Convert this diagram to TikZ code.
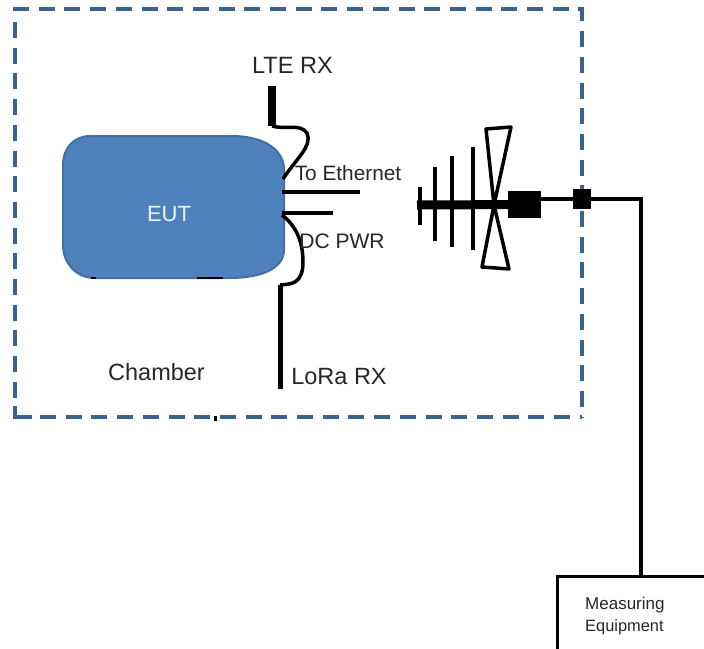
\documentclass[tikz,border=0pt]{standalone}
\usepackage{fontspec}
\setmainfont{Liberation Sans}
\usepackage{xcolor}
\usetikzlibrary{calc}
\definecolor{chamberblue}{HTML}{3A6291}
\definecolor{eutblue}{HTML}{4F81BD}
\definecolor{eutedge}{HTML}{44709F}
\tikzset{
    lbl/.style={font=\fontsize{#1}{#1}\selectfont, text=black!85, inner sep=0pt},
    wall/.style={chamberblue, line width=4pt, dash pattern=on 16pt off 9.7pt},
    cable/.style={black, line width=3.5pt},
    blackbox/.style={fill=black, draw=none, inner sep=0pt},
    element/.style={black, line width=4.5pt}
}

\begin{document}
\begin{tikzpicture}[x=1pt, y=-1pt]
    \useasboundingbox (0,0) rectangle (704,648);
    \clip (0,0) rectangle (704,648);

    % Draw chamber
    \draw[wall] (13,9) -- (582,9) -- (582,417);
    \draw[wall] (15,22) -- (15,398);
    \draw[chamberblue, line width=4pt] (15,406) -- (15,417) -- (32,417);
    \draw[wall] (40,417) -- (582,417);
    \fill[black] (213.5,416) rectangle (217,421);

    % Draw EUT
    \draw[eutedge, fill=eutblue, line width=2pt] (90,136) -- (235,136)
        .. controls (265,137) and (284,150) .. (284,170) -- (284,250)
        .. controls (284,268) and (262,278) .. (230,278) -- (95,278)
        .. controls (75,278) and (63,262) .. (63,245) -- (63,165)
        .. controls (63,148) and (74,136) .. (90,136) -- cycle;
    \draw[black, line width=2pt] (91,278) -- (96,278);
    \draw[black, line width=2pt] (197,278) -- (223,278);
    \node[lbl=22, text=white!90!eutblue] (eut) at (169,214.5) {EUT};

    % Cable ends
    \coordinate (lteTop) at (272,86);
    \coordinate (lteEnd) at (272,126);
    \coordinate (lteEut) at (283,179);
    \coordinate (ethEut) at (282,192);
    \coordinate (ethEnd) at (360,192);
    \coordinate (dcEut) at (282,213);
    \coordinate (dcEnd) at (333,213);
    \coordinate (loraEut) at (282,215);
    \coordinate (loraTop) at (280,285);
    \coordinate (loraEnd) at (280,389);

    % Draw cables
    \draw[black, line width=8pt] (lteTop) -- (lteEnd);
    \draw[cable] (lteEnd) .. controls (285,130) and (300,123) .. (307,133)
        .. controls (313,146) and (295,160) .. (lteEut);
    \draw[black, line width=4pt] (ethEut) -- (ethEnd);
    \draw[black, line width=4pt] (dcEut) -- (dcEnd);
    \draw[cable] (loraEut) .. controls (295,225) and (303,240) .. (303,262)
        .. controls (303,285) and (290,284) .. (loraTop);
    \draw[black, line width=5pt] (loraTop) -- (loraEnd);

    % Draw antenna
    \node[blackbox, minimum width=33pt, minimum height=27pt] (feed) at (524.5,204.5) {};
    \node[blackbox, minimum width=18pt, minimum height=20pt] (port) at (582,199) {};
    \coordinate (boomEnd) at (417,205);
    \draw[black, line width=9pt] (boomEnd) -- (feed);
    \foreach \x/\ya/\yb in {420/187/225, 435/167/241, 452/156/247, 473/147/250}
        \draw[element] (\x,\ya) -- (\x,\yb);
    \draw[black, line width=3.5pt, line join=round] (494,205) -- (486,129) -- (511,127) -- (494,205)
        -- (482,267) -- (509,269) -- cycle;

    % Measuring equipment
    \node[draw=black, line width=3pt, minimum width=168pt, minimum height=108pt, inner sep=0pt] (meter) at (641,630) {};
    \draw[black, line width=4pt] (feed.east |- port) -- (port);
    \draw[black, line width=4pt] (port) -| (meter.north);

    % Labels
    \node[lbl=23.6] (lteLabel) at (292.5,65) {LTE RX};
    \node[lbl=20.8] (ethLabel) at (348,173) {To Ethernet};
    \node[lbl=21] (dcLabel) at (342,241) {DC PWR};
    \node[lbl=23.5] (chamberLabel) at (156.5,372) {Chamber};
    \node[lbl=23.5] (loraLabel) at (339,376.5) {LoRa RX};
    \node[lbl=17, anchor=west] (measLabel) at (585,605) {Measuring};
    \node[lbl=16.4, anchor=west] (equipLabel) at (585,627) {Equipment};
\end{tikzpicture}
\end{document}
